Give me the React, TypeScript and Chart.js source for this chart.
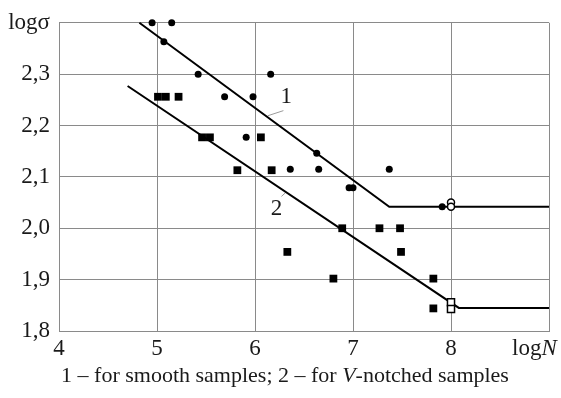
import React, { useEffect, useRef } from 'react';
import { Chart, registerables } from 'chart.js';

Chart.register(...registerables);

// Smooth samples (series 1), filled circles
const smoothX = [4.95, 5.15, 5.07, 5.42, 6.16, 5.69, 5.98, 5.91, 6.63, 6.36, 6.65, 7.37, 6.96, 7.0, 7.91];
const smoothY = [2.4, 2.4, 2.363, 2.3, 2.3, 2.256, 2.256, 2.177, 2.146, 2.115, 2.115, 2.115, 2.079, 2.079, 2.042];
// Smooth samples run-outs (hollow circles)
const smoothRunX = [8.0, 8.0];
const smoothRunY = [2.05, 2.042];

// V-notched samples (series 2), filled squares
const notchedX = [5.01, 5.09, 5.22, 5.46, 5.54, 6.06, 5.82, 6.17, 6.89, 7.27, 7.48, 6.33, 7.49, 6.8, 7.82, 7.82];
const notchedY = [2.256, 2.256, 2.256, 2.177, 2.177, 2.177, 2.113, 2.113, 2.0, 2.0, 2.0, 1.954, 1.954, 1.902, 1.902, 1.844];
// V-notched run-outs (hollow squares)
const notchedRunX = [8.0, 8.0];
const notchedRunY = [1.856, 1.843];

// Fatigue curves
const curve1X = [4.82, 7.37, 9.0];
const curve1Y = [2.4, 2.042, 2.042];
const curve2X = [4.7, 8.08, 9.0];
const curve2Y = [2.277, 1.845, 1.845];

// Label leader lines
const leader1X = [6.13, 6.29];
const leader1Y = [2.219, 2.229];
const leader2X = [6.27, 6.31];
const leader2Y = [2.062, 2.069];

const curveLabels = ['1', '2'];
const curveLabelX = [6.32, 6.22];
const curveLabelY = [2.256, 2.037];

const xTickValues = [4, 5, 6, 7, 8, 9];
const yTickValues = [1.8, 1.9, 2.0, 2.1, 2.2, 2.3, 2.4];
const yAxisTitle = 'logσ';
const xAxisTitle = ['log', 'N'];
const caption = ['1 – for smooth samples; 2 – for ', 'V', '-notched samples'];

const zip = (xs: number[], ys: number[]) => xs.map((x, i) => ({ x, y: ys[i] }));

const FONT = '"Liberation Serif", "Times New Roman", serif';
const TEXT = '#1a1a1a';
const GRID = '#8a8a8a';
const TICK_SIZE = 23;
const CAP_SIZE = 22;

export default function App() {
  const ref = useRef<HTMLCanvasElement | null>(null);

  useEffect(() => {
    if (!ref.current) return;
    const textPlugin = {
      id: 'texts',
      afterDraw(chart: any) {
        const ctx = chart.ctx;
        const xs = chart.scales.x;
        const ys = chart.scales.y;
        ctx.save();
        ctx.fillStyle = TEXT;
        ctx.textBaseline = 'middle';
        // curve labels
        ctx.font = `${TICK_SIZE}px ${FONT}`;
        ctx.textAlign = 'center';
        curveLabels.forEach((t, i) => {
          ctx.fillText(t, xs.getPixelForValue(curveLabelX[i]), ys.getPixelForValue(curveLabelY[i]));
        });
        // x axis title
        ctx.textAlign = 'left';
        const regular = `${TICK_SIZE}px ${FONT}`;
        const italic = `italic ${TICK_SIZE}px ${FONT}`;
        let x0 = 512;
        const yT = 349;
        ctx.font = regular;
        ctx.fillText(xAxisTitle[0], x0, yT);
        x0 += ctx.measureText(xAxisTitle[0]).width;
        ctx.font = italic;
        ctx.fillText(xAxisTitle[1], x0, yT);
        // caption
        const cap = `${CAP_SIZE}px ${FONT}`;
        const capI = `italic ${CAP_SIZE}px ${FONT}`;
        const fonts = [cap, capI, cap];
        let total = 0;
        caption.forEach((s, i) => { ctx.font = fonts[i]; total += ctx.measureText(s).width; });
        let cx = 285 - total / 2;
        const cy = 376;
        caption.forEach((s, i) => {
          ctx.font = fonts[i];
          ctx.fillText(s, cx, cy);
          cx += ctx.measureText(s).width;
        });
        ctx.restore();
      },
    };

    const chart = new Chart(ref.current, {
      type: 'scatter',
      data: {
        datasets: [
          {
            data: zip(smoothRunX, smoothRunY),
            pointStyle: 'circle',
            pointRadius: 3.5,
            pointBackgroundColor: '#ffffff',
            pointBorderColor: '#000000',
            pointBorderWidth: 1.5,
            clip: false,
          },
          {
            data: zip(notchedRunX, notchedRunY),
            pointStyle: 'rect',
            pointRadius: 5,
            pointBackgroundColor: '#ffffff',
            pointBorderColor: '#000000',
            pointBorderWidth: 1.5,
            clip: false,
          },
          {
            data: zip(smoothX, smoothY),
            pointStyle: 'circle',
            pointRadius: 3.5,
            pointBackgroundColor: '#000000',
            pointBorderColor: '#000000',
            pointBorderWidth: 0,
            clip: false,
          },
          {
            data: zip(notchedX, notchedY),
            pointStyle: 'rect',
            pointRadius: 5.5,
            pointBackgroundColor: '#000000',
            pointBorderColor: '#000000',
            pointBorderWidth: 0,
            clip: false,
          },
          {
            data: zip(curve1X, curve1Y),
            showLine: true,
            borderColor: '#000000',
            borderWidth: 2,
            pointRadius: 0,
            clip: false,
          },
          {
            data: zip(curve2X, curve2Y),
            showLine: true,
            borderColor: '#000000',
            borderWidth: 2,
            pointRadius: 0,
            clip: false,
          },
          {
            data: zip(leader1X, leader1Y),
            showLine: true,
            borderColor: '#9a9a9a',
            borderWidth: 1,
            pointRadius: 0,
          },
          {
            data: zip(leader2X, leader2Y),
            showLine: true,
            borderColor: '#9a9a9a',
            borderWidth: 1,
            pointRadius: 0,
          },
        ],
      },
      options: {
        responsive: false,
        animation: false,
        layout: { padding: { top: 19, right: 12, left: 0, bottom: 0 } },
        plugins: { legend: { display: false }, tooltip: { enabled: false } },
        scales: {
          x: {
            type: 'linear',
            min: 4,
            max: 9,
            afterFit: (s: any) => { s.height = 67; },
            afterBuildTicks: (s: any) => { s.ticks = xTickValues.map((v) => ({ value: v })); },
            grid: { color: GRID, lineWidth: 1, drawTicks: false },
            border: { color: GRID, width: 1 },
            ticks: {
              padding: 4,
              color: TEXT,
              font: { family: FONT, size: TICK_SIZE },
              maxRotation: 0,
              callback: (v: any) => (Math.abs(v - 9) < 1e-6 ? '' : String(v)),
            },
          },
          y: {
            type: 'linear',
            min: 1.8,
            max: 2.4,
            afterFit: (s: any) => { s.width = 59; },
            afterBuildTicks: (s: any) => { s.ticks = yTickValues.map((v) => ({ value: v })); },
            grid: { color: GRID, lineWidth: 1, drawTicks: false },
            border: { color: GRID, width: 1 },
            ticks: {
              padding: 9,
              color: TEXT,
              font: { family: FONT, size: TICK_SIZE },
              callback: (v: any) =>
                Math.abs(v - 2.4) < 1e-6 ? yAxisTitle : Number(v).toFixed(1).replace('.', ','),
            },
          },
        },
      },
      plugins: [textPlugin],
    });
    return () => chart.destroy();
  }, []);

  return (
    <div style={{ position: 'fixed', left: 0, top: 0, width: 561, height: 398, background: '#fff' }}>
      <canvas ref={ref} width={561} height={398} style={{ display: 'block' }} />
    </div>
  );
}
